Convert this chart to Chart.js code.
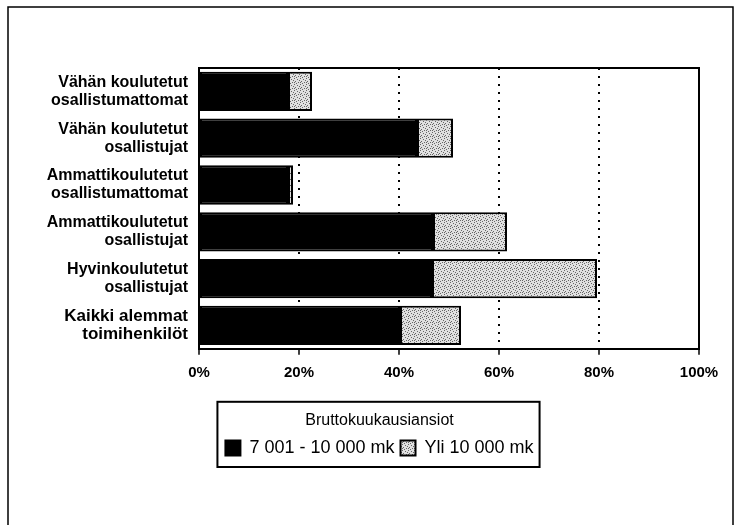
<!DOCTYPE html>
<html>
<head>
<meta charset="utf-8">
<script src="https://cdn.jsdelivr.net/npm/chart.js@4/dist/chart.umd.min.js"></script>
<style>
  body { margin: 0; background: #fff; }
  #wrap { width: 739px; height: 525px; position: relative; }
</style>
</head>
<body>
<div id="wrap"><canvas id="ansiot"></canvas></div>
<script>
// ryhmat ja osuudet (%)
const categories = [
  ["Vähän koulutetut", "osallistumattomat"],
  ["Vähän koulutetut", "osallistujat"],
  ["Ammattikoulutetut", "osallistumattomat"],
  ["Ammattikoulutetut", "osallistujat"],
  ["Hyvinkoulutetut", "osallistujat"],
  ["Kaikki alemmat", "toimihenkilöt"]
];
const mid_values = [17.8, 43.6, 17.8, 46.8, 46.6, 40.2];   // 7 001 - 10 000 mk
const high_values = [4.8, 7.2, 1.0, 14.8, 33.0, 12.2];    // Yli 10 000 mk
const x_ticks = [0, 20, 40, 60, 80, 100];
const series_names = ["7 001 - 10 000 mk", "Yli 10 000 mk"];

const FONT = "'Liberation Sans', Arial, Helvetica, sans-serif";
Chart.defaults.font.family = FONT;
Chart.defaults.color = '#000';

// harmaa pilkkukuvio
var pc = document.createElement('canvas');
pc.width = 6; pc.height = 6;
var pctx = pc.getContext('2d');
pctx.fillStyle = '#e0e0e0';
pctx.fillRect(0, 0, 6, 6);
pctx.fillStyle = '#666';
[[0,0],[3,1],[1,3],[4,4],[5,2],[2,5],[0,4]].forEach(function (p) { pctx.fillRect(p[0], p[1], 1, 1); });
var ctx = document.getElementById('ansiot').getContext('2d');
var grey = ctx.createPattern(pc, 'repeat');

const frames = {
  id: 'frames',
  afterLayout(chart) {
    // legend sits a bit right of the canvas centre
    const lg = chart.legend;
    if (lg) { lg.left += 30; lg.right += 30; }
  },
  afterDraw(chart) {
    const c = chart.ctx, a = chart.chartArea;
    c.save();
    c.strokeStyle = '#000';
    c.setLineDash([]);
    // plot frame top + right
    c.lineWidth = 2;
    c.beginPath();
    c.moveTo(a.left, a.top); c.lineTo(a.right, a.top); c.lineTo(a.right, a.bottom);
    c.stroke();
    // outer frame
    c.lineWidth = 1.5;
    c.beginPath();
    c.moveTo(8, 525); c.lineTo(8, 7); c.lineTo(733, 7); c.lineTo(733, 525);
    c.stroke();
    // legend box
    const lg = chart.legend;
    if (lg && lg.legendHitBoxes.length) {
      let l = Infinity, r = -Infinity;
      lg.legendHitBoxes.forEach(function (h) { l = Math.min(l, h.left); r = Math.max(r, h.left + h.width); });
      c.lineWidth = 2;
      c.strokeRect(l - 8, lg.top + 11, (r + 6) - (l - 8), lg.bottom - lg.top - 11);
    }
    c.restore();
  }
};

new Chart(ctx, {
  type: 'bar',
  data: {
    labels: categories,
    datasets: [
      { label: series_names[0], data: mid_values, backgroundColor: '#000', borderColor: '#000', borderWidth: 2, borderSkipped: false },
      { label: series_names[1], data: high_values, backgroundColor: grey, borderColor: '#000', borderWidth: 2, borderSkipped: false }
    ]
  },
  options: {
    indexAxis: 'y',
    responsive: true,
    maintainAspectRatio: false,
    animation: false,
    datasets: { bar: { barPercentage: 0.84, categoryPercentage: 1 } },
    layout: { padding: { left: 0, right: 40, top: 68, bottom: 58 } },
    scales: {
      x: {
        stacked: true,
        min: 0, max: 100,
        afterBuildTicks: function (s) { s.ticks = x_ticks.map(function (v) { return { value: v }; }); },
        ticks: {
          callback: function (v) { return v + '%'; },
          font: { size: 15, weight: 'bold', lineHeight: 1.2 },
          padding: 9,
          maxRotation: 0
        },
        grid: {
          color: function (c) { return (c.tick && c.tick.value > 0 && c.tick.value < 100) ? '#000' : 'rgba(0,0,0,0)'; },
          lineWidth: 2,
          tickColor: '#000',
          tickBorderDash: [],
          tickLength: 6,
          tickWidth: 1.5
        },
        border: { display: true, color: '#000', width: 2, dash: [2, 6] }
      },
      y: {
        stacked: true,
        afterFit: function (s) { s.width = 199; },
        ticks: {
          padding: 3,
          font: function (c) {
            return c.index === 5
              ? { size: 17, weight: 'bold', lineHeight: 1.06 }
              : { size: 16, weight: 'bold', lineHeight: 1.125 };
          }
        },
        grid: { display: false },
        border: { display: true, color: '#000', width: 2 }
      }
    },
    plugins: {
      legend: {
        position: 'bottom',
        title: { display: true, text: 'Bruttokuukausiansiot', font: { size: 16 }, padding: { top: 22, bottom: 1 } },
        labels: { boxWidth: 15, boxHeight: 15, padding: 6, font: { size: 18 } }
      },
      tooltip: { enabled: false }
    }
  },
  plugins: [frames]
});
</script>
</body>
</html>
